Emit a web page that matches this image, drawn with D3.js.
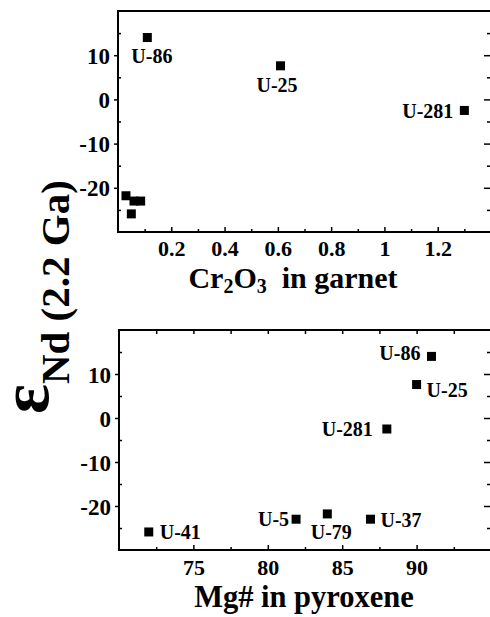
<!DOCTYPE html>
<html><head><meta charset="utf-8">
<script src="https://cdn.jsdelivr.net/npm/d3@7"></script>
<style>body{margin:0;background:#fff} svg{display:block}</style>
</head><body><svg id="c" width="490" height="617"></svg>
<script>
// ---- data ----
const samples   = ["U-86", "U-25", "U-281", "U-41", "U-5", "U-79", "U-37"];
const epsNd     = [14.0, 7.6, -2.5, -25.9, -23.0, -21.8, -23.0];
const cr2o3     = [0.11, 0.61, 1.30, 0.05, 0.06, 0.03, 0.085];
const mgNumber  = [91.0, 90.0, 88.0, 72.0, 81.9, 84.0, 86.9];
const yTickLabels = [-20, -10, 0, 10];
const yMinorTicks = [-25, -15, -5, 5, 15];
const crTickLabels = [0.2, 0.4, 0.6, 0.8, 1, 1.2];
const crMinorTicks = [0.1, 0.3, 0.5, 0.7, 0.9, 1.1, 1.3];
const mgTickLabels = [75, 80, 85, 90];
const mgMinorTicks = [72.5, 77.5, 82.5, 87.5, 92.5];
const topLabelled = ["U-86", "U-25", "U-281"];

// ---- layout (label placement relative to the marker) ----
const topLabelPos = {
  "U-86":  {anchor: "start",  dx: -16, dy: 25},
  "U-25":  {anchor: "start",  dx: -24, dy: 26},
  "U-281": {anchor: "end",    dx: -11, dy: 8}
};
const botLabelPos = {
  "U-86":  {anchor: "end",    dx: -11, dy: 4},
  "U-25":  {anchor: "start",  dx: 10,  dy: 12},
  "U-281": {anchor: "end",    dx: -14, dy: 7},
  "U-41":  {anchor: "start",  dx: 11,  dy: 7},
  "U-5":   {anchor: "end",    dx: -7,  dy: 7},
  "U-79":  {anchor: "middle", dx: 4,   dy: 25},
  "U-37":  {anchor: "start",  dx: 10,  dy: 8}
};

const serif = "'Liberation Serif','Times New Roman',serif";
const svg = d3.select("#c");
const yDomain = [-30, 20];
const fmt = d => String(d);

function panel(cfg) {
  const x = d3.scaleLinear().domain(cfg.xDomain).range([cfg.left, cfg.right]);
  const y = d3.scaleLinear().domain(yDomain).range([cfg.bottom, cfg.top]);
  const g = svg.append("g");

  const style = sel => sel.attr("font-family", serif).attr("font-weight", "bold")
      .call(s => s.select(".domain").remove())
      .call(s => s.selectAll("line").attr("stroke", "#000").attr("stroke-width", 1.5));

  // bottom axis: major inward ticks with labels
  g.append("g").attr("transform", `translate(0,${cfg.bottom})`)
    .call(d3.axisBottom(x).tickValues(cfg.xMajor).tickSize(-5).tickFormat(fmt))
    .call(style)
    .call(s => s.selectAll("text").attr("y", cfg.xLabelOffset).attr("dy", null)
      .attr("font-size", 22).attr("font-weight", "bold").attr("fill", "#000"));
  g.append("g").attr("transform", `translate(0,${cfg.bottom})`)
    .call(d3.axisBottom(x).tickValues(cfg.xMinor).tickSize(-3).tickFormat(""))
    .call(style);

  if (cfg.topTicks) {
    g.append("g").attr("transform", `translate(0,${cfg.top})`)
      .call(d3.axisTop(x).tickValues(cfg.xMajor.concat(cfg.xMinor)).tickSize(-4).tickFormat(""))
      .call(style);
  }

  // left axis
  g.append("g").attr("transform", `translate(${cfg.left},0)`)
    .call(d3.axisLeft(y).tickValues(yTickLabels).tickSize(4).tickPadding(4).tickFormat(fmt))
    .call(style)
    .call(s => s.selectAll("text").attr("font-size", 23).attr("font-weight", "bold")
      .attr("fill", "#000").attr("dy", "0.35em"));
  g.append("g").attr("transform", `translate(${cfg.left},0)`)
    .call(d3.axisLeft(y).tickValues(yMinorTicks).tickSize(-3).tickFormat(""))
    .call(style);

  // right axis ticks (inward)
  g.append("g").attr("transform", `translate(${cfg.right},0)`)
    .call(d3.axisRight(y).tickValues(yTickLabels).tickSize(-7).tickFormat(""))
    .call(style);
  g.append("g").attr("transform", `translate(${cfg.right},0)`)
    .call(d3.axisRight(y).tickValues(yMinorTicks).tickSize(-4).tickFormat(""))
    .call(style);

  // frame
  g.append("path")
    .attr("d", `M${cfg.right},${cfg.bottom}H${cfg.left}V${cfg.top}H${cfg.right}V${cfg.bottom}`)
    .attr("fill", "none").attr("stroke", "#000").attr("stroke-width", 2);

  // markers
  const pts = samples.map((s, i) => ({s, xv: cfg.xVals[i], yv: epsNd[i]}));
  const size = 9;
  g.selectAll("rect.pt").data(pts).join("rect").attr("class", "pt")
    .attr("x", d => x(d.xv) - size / 2).attr("y", d => y(d.yv) - size / 2)
    .attr("width", size).attr("height", size).attr("fill", "#000");

  // labels
  g.selectAll("text.lab").data(pts.filter(d => cfg.labels[d.s])).join("text").attr("class", "lab")
    .attr("x", d => x(d.xv) + cfg.labels[d.s].dx)
    .attr("y", d => y(d.yv) + cfg.labels[d.s].dy)
    .attr("text-anchor", d => cfg.labels[d.s].anchor)
    .attr("font-family", serif).attr("font-weight", "bold").attr("font-size", 20)
    .text(d => d.s);
  return {x, y};
}

panel({left: 118, right: 491, top: 11, bottom: 232, xDomain: [0, 1.4],
  xMajor: crTickLabels, xMinor: crMinorTicks, xVals: cr2o3, xLabelOffset: 24,
  labels: Object.fromEntries(topLabelled.map(s => [s, topLabelPos[s]])), topTicks: false});

panel({left: 119, right: 491, top: 330, bottom: 550, xDomain: [70, 95],
  xMajor: mgTickLabels, xMinor: mgMinorTicks, xVals: mgNumber, xLabelOffset: 25,
  labels: botLabelPos, topTicks: true});

// axis titles
const t1 = svg.append("text").attr("x", 293).attr("y", 288).attr("text-anchor", "middle")
  .attr("font-family", serif).attr("font-weight", "bold").attr("font-size", 30);
t1.append("tspan").text("Cr");
t1.append("tspan").attr("font-size", 20).attr("dy", 5).text("2");
t1.append("tspan").attr("dy", -5).text("O");
t1.append("tspan").attr("font-size", 20).attr("dy", 5).text("3");
t1.append("tspan").attr("dy", -5).text("\u00a0 in garnet");

svg.append("text").attr("x", 304).attr("y", 606.5).attr("text-anchor", "middle")
  .attr("font-family", serif).attr("font-weight", "bold").attr("font-size", 30.5)
  .text("Mg# in pyroxene");

const yt = svg.append("text").attr("transform", "translate(48,414) rotate(-90)")
  .attr("font-family", serif).attr("font-weight", "bold");
yt.append("tspan").attr("font-size", 70).text("ε");
yt.append("tspan").attr("font-size", 41).attr("dy", 21).text("Nd (2.2 Ga)");
</script>
</body></html>
